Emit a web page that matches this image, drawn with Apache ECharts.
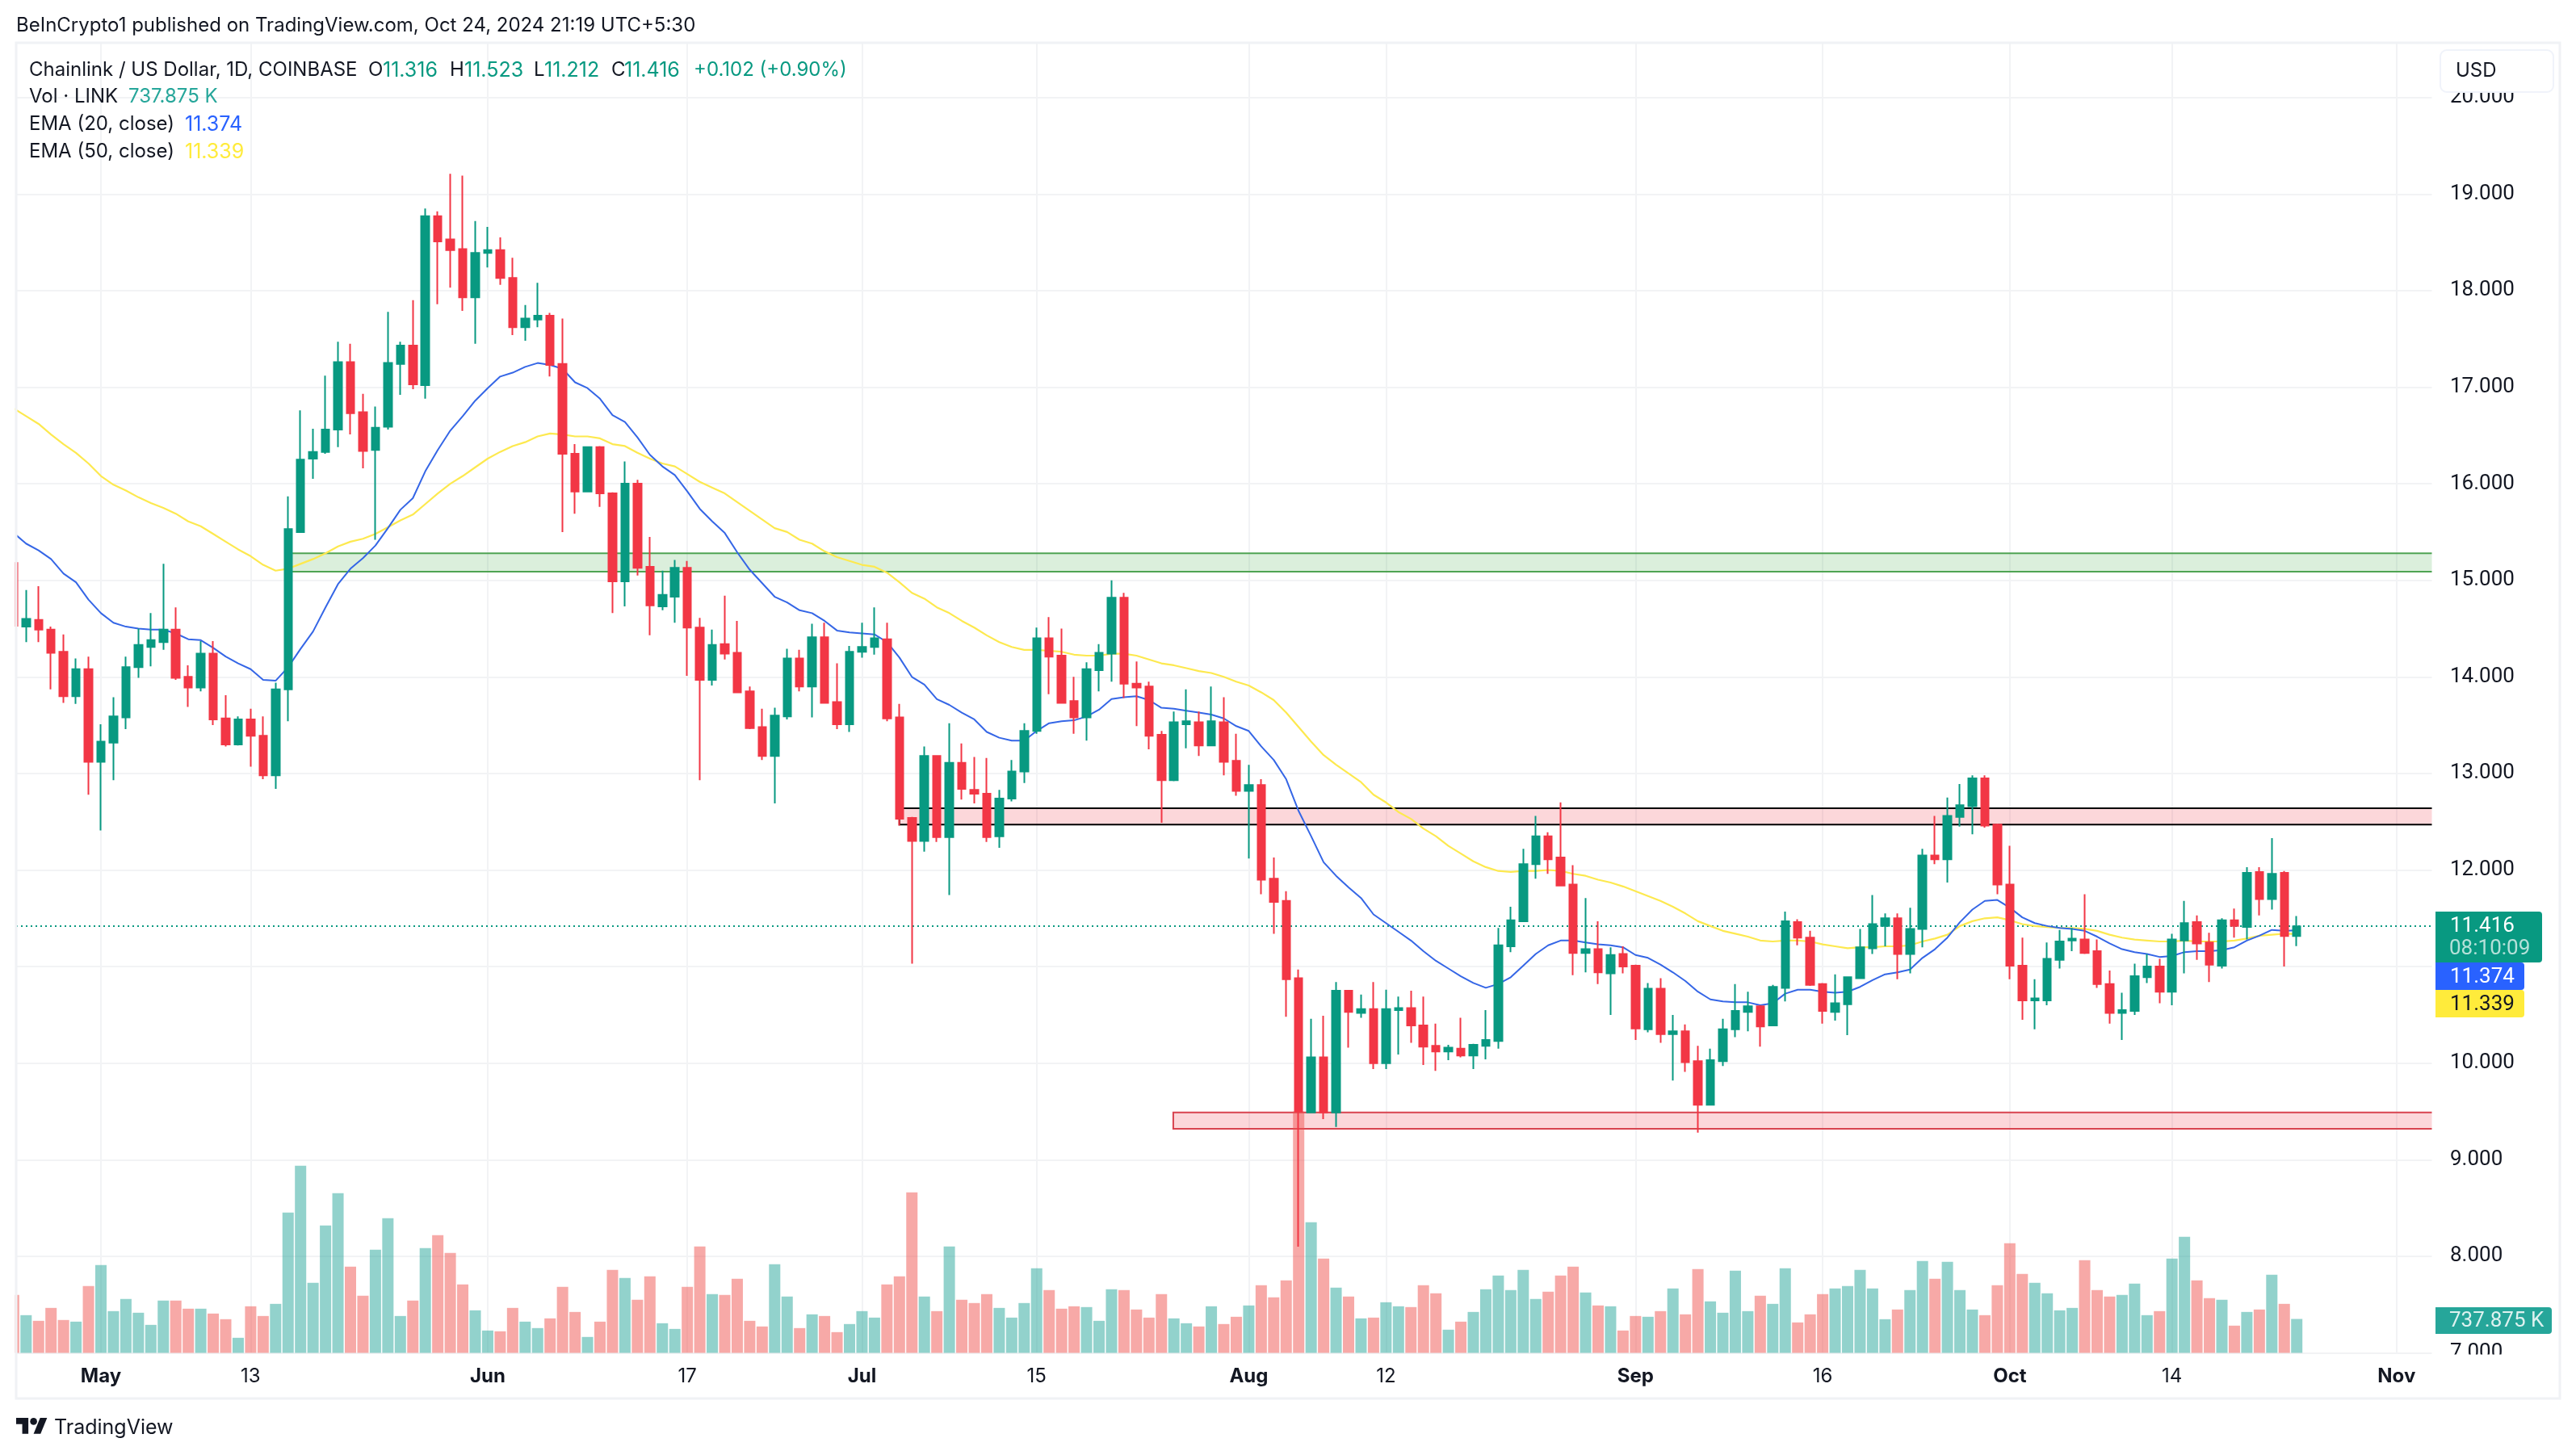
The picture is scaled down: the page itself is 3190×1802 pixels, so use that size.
<!DOCTYPE html>
<html><head><meta charset="utf-8">
<style>html,body{margin:0;padding:0;background:#fff}#c{width:3190px;height:1802px}</style>
<script src="https://cdn.jsdelivr.net/npm/echarts@6/dist/echarts.min.js"></script>
</head><body><div id="c"></div>
<script>
// day number of each bar counted from 1 May 2024; the first bar is 24 Apr, the last 24 Oct
const firstDay = -7;
const opens = [
15.18,14.52,14.59,14.49,14.26,13.80,14.08,
13.12,13.32,13.58,14.10,14.31,14.36,14.49,14.00,13.89,14.24,
13.57,13.30,13.56,13.39,12.98,13.87,15.50,16.26,16.33,16.56,
17.26,16.74,16.35,16.59,17.24,17.43,17.02,18.77,18.53,18.43,
17.93,18.39,18.42,18.13,17.62,17.70,17.74,17.24,16.31,15.92,
16.38,15.90,14.99,16.00,15.14,14.73,14.83,15.13,14.51,13.97,
14.34,14.25,13.85,13.48,13.18,13.59,14.19,13.90,14.41,13.74,
13.51,14.26,14.31,14.39,13.58,12.54,12.30,13.18,12.34,13.11,
12.83,12.79,12.35,12.74,13.02,13.44,14.40,14.22,13.75,13.58,
14.07,14.24,14.82,13.93,13.90,13.40,12.93,13.51,13.53,13.29,
13.53,13.13,12.82,12.88,11.91,11.68,10.88,9.49,10.06,9.49,
10.75,10.52,10.56,10.00,10.55,10.57,10.39,10.18,10.12,10.15,
10.08,10.18,10.23,11.21,11.47,12.06,12.35,12.13,11.85,11.14,
11.18,10.93,11.13,11.01,10.35,10.77,10.30,10.33,10.02,9.57,
10.02,10.35,10.53,10.59,10.39,10.78,11.46,11.30,10.82,10.53,
10.61,10.88,11.19,11.42,11.50,11.13,11.39,12.15,12.11,12.55,
12.66,12.95,12.47,11.85,11.01,10.65,10.65,11.07,11.27,11.28,
11.16,10.82,10.52,10.54,10.89,11.00,10.74,11.27,11.46,11.25,
11.01,11.48,11.41,11.98,11.70,11.97,11.316];
const closes = [
14.53,14.60,14.49,14.25,13.80,14.08,13.12,
13.33,13.59,14.10,14.33,14.38,14.49,13.99,13.89,14.24,13.56,
13.30,13.56,13.39,12.98,13.87,15.53,16.25,16.33,16.56,17.26,
16.73,16.34,16.58,17.25,17.43,17.03,18.77,18.51,18.42,17.93,
18.39,18.42,18.13,17.62,17.71,17.74,17.23,16.31,15.92,16.38,
15.90,14.99,16.00,15.13,14.74,14.85,15.13,14.51,13.97,14.33,
14.24,13.84,13.47,13.18,13.60,14.19,13.90,14.41,13.73,13.51,
14.26,14.31,14.40,13.57,12.53,12.30,13.18,12.34,13.11,12.84,
12.79,12.34,12.74,13.02,13.44,14.40,14.21,13.73,13.58,14.08,
14.25,14.82,13.93,13.89,13.39,12.93,13.53,13.54,13.29,13.54,
13.12,12.82,12.88,11.90,11.67,10.87,9.50,10.06,9.49,10.75,
10.53,10.56,10.00,10.56,10.57,10.39,10.17,10.12,10.16,10.08,
10.19,10.24,11.22,11.48,12.06,12.35,12.11,11.84,11.14,11.18,
10.94,11.12,11.00,10.36,10.77,10.30,10.33,10.01,9.57,10.03,
10.35,10.54,10.59,10.38,10.79,11.47,11.30,10.81,10.54,10.62,
10.89,11.20,11.44,11.50,11.13,11.39,12.15,12.11,12.56,12.67,
12.95,12.46,11.85,11.01,10.65,10.67,11.08,11.26,11.29,11.14,
10.82,10.52,10.55,10.90,11.00,10.74,11.28,11.45,11.24,11.02,
11.48,11.42,11.97,11.70,11.96,11.316,11.416];
const lows = [
14.50,14.36,14.36,13.87,13.73,13.72,12.78,
12.41,12.93,13.46,13.99,14.11,14.28,13.97,13.69,13.85,13.50,
13.28,13.29,13.07,12.94,12.84,13.54,15.49,16.05,16.31,16.38,
16.51,16.16,15.42,16.56,16.92,16.98,16.88,17.86,18.03,17.79,
17.45,18.24,18.06,17.54,17.48,17.62,17.11,15.50,15.69,15.91,
15.76,14.66,14.73,15.05,14.43,14.69,14.56,14.01,12.93,13.91,
14.18,13.84,13.46,13.14,12.69,13.56,13.85,13.58,13.73,13.46,
13.43,14.20,14.23,13.54,12.46,11.03,12.19,12.29,11.74,12.73,
12.69,12.29,12.23,12.71,12.90,13.41,13.82,13.73,13.41,13.34,
13.85,13.95,13.78,13.49,13.25,12.49,12.92,13.26,13.18,13.29,
12.98,12.77,12.12,11.75,11.34,10.48,8.10,9.49,9.42,9.34,
10.16,10.47,9.94,9.94,10.09,10.21,9.98,9.92,10.03,10.06,
9.94,10.04,10.15,11.15,11.46,11.91,11.96,11.84,10.91,10.94,
10.82,10.50,10.93,10.24,10.32,10.21,9.82,9.91,9.28,9.56,
9.97,10.27,10.33,10.17,10.39,10.64,11.22,10.80,10.41,10.44,
10.29,10.88,11.13,11.21,10.87,10.93,11.20,12.06,11.87,12.45,
12.37,12.44,11.75,10.87,10.45,10.35,10.60,10.98,11.16,11.13,
10.78,10.41,10.24,10.50,10.83,10.62,10.60,10.93,11.07,10.84,
10.98,11.30,11.28,11.53,11.59,11.00,11.212];
const highs = [
15.20,14.90,14.94,14.52,14.44,14.19,14.21,
13.51,13.79,14.21,14.50,14.66,15.17,14.72,14.12,14.37,14.37,
13.81,13.59,13.67,13.59,13.94,15.87,16.76,16.57,17.12,17.47,
17.45,16.93,16.80,17.78,17.47,17.90,18.85,18.82,19.21,19.19,
18.72,18.66,18.55,18.34,17.85,18.08,17.77,17.71,16.41,16.38,
16.39,15.91,16.23,16.04,15.45,15.10,15.21,15.20,14.61,14.49,
14.84,14.58,13.90,13.67,13.68,14.29,14.28,14.55,14.56,14.14,
14.32,14.56,14.72,14.56,13.72,12.55,13.28,13.19,13.52,13.31,
13.17,13.16,12.83,13.14,13.52,14.51,14.62,14.50,14.00,14.15,
14.34,15.00,14.87,14.16,13.95,13.44,13.64,13.87,13.64,13.90,
13.79,13.41,13.09,12.94,12.13,11.78,10.97,10.46,10.49,10.84,
10.75,10.71,10.84,10.76,10.69,10.75,10.69,10.41,10.19,10.47,
10.20,10.55,11.40,11.62,12.22,12.56,12.39,12.70,12.05,11.71,
11.47,11.20,11.21,11.02,10.83,10.88,10.50,10.40,10.18,10.15,
10.46,10.82,10.74,10.60,10.81,11.57,11.49,11.37,10.83,10.92,
10.89,11.39,11.74,11.55,11.55,11.61,12.22,12.56,12.75,12.89,
12.98,12.98,12.48,12.25,11.30,10.87,11.25,11.38,11.40,11.75,
11.28,10.96,10.73,11.03,11.13,11.08,11.34,11.68,11.53,11.35,
11.50,11.60,12.03,12.03,12.33,11.99,11.523];
// volume in thousands of LINK
const volumes = [
1259,820,697,978,715,679,1453,
1909,908,1171,873,609,1136,1136,961,961,855,
732,328,1013,802,1066,3051,4071,1523,2770,3473,
1874,1242,2243,2929,802,1136,2278,2560,2173,1488,
925,486,469,978,679,539,750,1435,890,346,
679,1804,1628,1154,1663,644,521,1435,2314,1277,
1259,1611,697,574,1927,1224,539,838,802,451,
627,908,767,1488,1663,3491,1224,908,2314,1154,
1084,1277,978,767,1084,1839,1365,961,1013,996,
697,1382,1365,943,767,1277,750,644,574,1013,
627,785,1031,1470,1207,1576,5253,2841,2050,1417,
1224,750,767,1101,1013,996,1470,1294,504,679,
890,1382,1681,1365,1804,1171,1330,1681,1874,1312,
1031,1013,486,802,785,908,1400,838,1822,1119,
873,1786,908,1242,1066,1839,662,838,1277,1400,
1453,1804,1400,732,943,1365,1997,1611,1980,1365,
943,820,1470,2384,1716,1523,1294,925,978,2015,
1365,1224,1259,1505,820,908,2050,2524,1576,1189,
1154,592,890,943,1699,1066,737.875];
const ema20 = [
15.49,15.38,15.31,15.22,15.07,14.98,14.80,
14.66,14.56,14.52,14.50,14.49,14.49,14.45,14.39,14.38,14.30,
14.21,14.14,14.08,13.97,13.96,14.10,14.29,14.47,14.72,14.96,
15.12,15.23,15.36,15.54,15.73,15.85,16.13,16.35,16.55,16.70,
16.86,16.99,17.11,17.15,17.21,17.25,17.23,17.19,17.05,16.99,
16.88,16.71,16.64,16.48,16.30,16.18,16.09,15.92,15.74,15.61,
15.49,15.29,15.11,14.97,14.83,14.77,14.69,14.66,14.58,14.48,
14.46,14.45,14.44,14.36,14.20,14.00,13.92,13.77,13.71,13.63,
13.56,13.43,13.37,13.34,13.34,13.44,13.52,13.54,13.55,13.59,
13.66,13.77,13.79,13.80,13.76,13.68,13.67,13.65,13.63,13.61,
13.57,13.49,13.44,13.28,13.14,12.94,12.61,12.35,12.08,11.94,
11.82,11.71,11.54,11.45,11.36,11.27,11.16,11.06,10.98,10.90,
10.83,10.78,10.82,10.89,11.01,11.13,11.22,11.27,11.27,11.25,
11.23,11.22,11.20,11.12,11.09,11.02,10.94,10.85,10.74,10.66,
10.64,10.63,10.63,10.60,10.62,10.72,10.76,10.76,10.74,10.73,
10.74,10.79,10.86,10.92,10.94,10.97,11.09,11.18,11.30,11.46,
11.59,11.68,11.69,11.61,11.51,11.45,11.42,11.40,11.39,11.37,
11.31,11.24,11.18,11.15,11.13,11.10,11.11,11.15,11.16,11.16,
11.17,11.20,11.27,11.32,11.38,11.37,11.374];
const ema50 = [
16.78,16.70,16.62,16.51,16.41,16.32,16.21,
16.08,15.99,15.93,15.86,15.80,15.75,15.69,15.61,15.56,15.48,
15.40,15.32,15.25,15.16,15.10,15.12,15.17,15.22,15.28,15.35,
15.40,15.43,15.48,15.55,15.62,15.68,15.79,15.90,16.00,16.08,
16.17,16.26,16.33,16.39,16.43,16.49,16.52,16.51,16.49,16.49,
16.47,16.41,16.39,16.32,16.26,16.21,16.18,16.10,16.02,15.96,
15.90,15.81,15.72,15.63,15.54,15.50,15.42,15.38,15.30,15.24,
15.20,15.16,15.14,15.08,14.98,14.87,14.81,14.72,14.66,14.58,
14.51,14.43,14.36,14.31,14.28,14.28,14.27,14.26,14.23,14.22,
14.22,14.24,14.24,14.22,14.18,14.14,14.12,14.09,14.06,14.04,
14.00,13.95,13.91,13.84,13.76,13.63,13.48,13.33,13.19,13.09,
13.00,12.91,12.78,12.70,12.60,12.53,12.43,12.35,12.25,12.17,
12.09,12.03,11.99,11.98,11.99,11.99,12.00,11.99,11.96,11.94,
11.90,11.87,11.83,11.78,11.73,11.68,11.62,11.55,11.47,11.42,
11.37,11.34,11.31,11.27,11.26,11.27,11.27,11.26,11.23,11.21,
11.19,11.20,11.20,11.21,11.21,11.22,11.26,11.29,11.33,11.42,
11.47,11.50,11.51,11.48,11.44,11.42,11.41,11.40,11.40,11.39,
11.37,11.33,11.30,11.28,11.27,11.26,11.26,11.27,11.26,11.26,
11.26,11.27,11.29,11.32,11.33,11.34,11.339];
const tickDays = [0,12,31,47,61,75,92,103,123,138,153,166,184];
const tickLabels = ['May','13','Jun','17','Jul','15','Aug','12','Sep','16','Oct','14','Nov'];
const monthLabels = ['May','Jun','Jul','Aug','Sep','Oct','Nov'];
const lastClose = 11.416;
// drawn zones: [first day, last day, top price, bottom price]
const greenZone = [15.27, 187, 15.28, 15.09];
const blackZone = [64, 187, 12.64, 12.47];
const redZone = [85.95, 187, 9.49, 9.32];

const GREEN='#089981', RED='#F23645', INK='#131722', FONT='Inter, "Noto Sans", sans-serif', MONO='Roboto, "Liberation Sans", sans-serif';
const PX_PER_DAY = 15.45, MAY1_X = 125, L = 20, R = 3013, T = 53, B = 1675.5;
const dayAt = x => (x - MAY1_X) / PX_PER_DAY;

const candles = opens.map((o,i)=>[firstDay+i,o,closes[i],lows[i],highs[i]]);
const volData = volumes.map((v,i)=>({value:[firstDay+i,v],itemStyle:{color:closes[i]>=opens[i]?'rgba(38,166,154,0.5)':'rgba(239,83,80,0.5)'}}));
const e20 = ema20.map((v,i)=>[firstDay+i,v]);
const e50 = ema50.map((v,i)=>[firstDay+i,v]);
const zone = (z,fill,border)=>[[{xAxis:z[0],yAxis:z[2],itemStyle:{color:fill,borderColor:border,borderWidth:2}},{xAxis:z[1],yAxis:z[3]}]];

function txt(x,y,text,fill,size,font){return {type:'text',x,y,z:120,silent:true,style:{text,fill:fill||INK,fontSize:size||24,fontFamily:font||FONT,verticalAlign:'middle',align:'left'}};}
function box(x,y,w,h,fill,r){return {type:'rect',z:110,silent:true,shape:{x,y,width:w,height:h,r:r||0},style:{fill}};}

const graphic = [
 box(0,40,18.5,1700,'#ffffff'),
 box(3011.5,40,9,1700,'#ffffff'),
 box(3020,1677.5,145,52,'#ffffff'),
 {type:'rect',z:112,silent:true,shape:{x:20,y:53,width:3150,height:1679},style:{fill:'none',stroke:'#F0F2F5',lineWidth:3}},
 {type:'rect',z:113,silent:true,shape:{x:3022,y:62,width:140,height:52,r:8},style:{fill:'#ffffff',stroke:'#F0F3FA',lineWidth:2}},
 txt(3041,88,'USD',INK,24),
 txt(20,32,'BeInCrypto1 published on TradingView.com, Oct 24, 2024 21:19 UTC+5:30',INK,24),
 txt(36,87,'Chainlink / US Dollar, 1D, COINBASE',INK,24),
 txt(456,87,'O',INK,24),txt(474,87,'11.316',GREEN,25),
 txt(557,87,'H',INK,24),txt(575,87,'11.523',GREEN,25),
 txt(661,87,'L',INK,24),txt(674,87,'11.212',GREEN,25),
 txt(757,87,'C',INK,24),txt(773,87,'11.416',GREEN,25),
 txt(859,87,'+0.102 (+0.90%)',GREEN,24),
 txt(36,120,'Vol · LINK',INK,24),txt(159,120,'737.875 K','#26A69A',24),
 txt(36,154,'EMA (20, close)',INK,24),txt(229,154,'11.374','#2962FF',25),
 txt(36,188,'EMA (50, close)',INK,24),txt(229,188,'11.339','#FFEB3B',25),
 box(3016,1129,132,63,GREEN,[0,4,4,0]),
 box(3016,1192,110,34,'#2962FF',[0,4,4,0]),
 box(3016,1226,110,34,'#FFEB3B',[0,4,4,0]),
 box(3016,1619,144,33,'#26A69A',[0,4,4,0]),
 txt(3034,1147.5,'11.416','#ffffff',26,MONO),
 txt(3033,1175,'08:10:09','rgba(255,255,255,0.7)',26,MONO),
 txt(3034,1210,'11.374','#ffffff',26,MONO),
 txt(3034,1244,'11.339',INK,26,MONO),
 txt(3033,1636,'737.875 K','rgba(255,255,255,0.85)',26,MONO),
 {type:'polygon',x:20,y:1751.6,scaleX:1.08,scaleY:1.1,z:120,silent:true,shape:{points:[[14,22],[7,22],[7,11],[0,11],[0,4],[14,4]]},style:{fill:INK}},
 {type:'polygon',x:20,y:1751.6,scaleX:1.08,scaleY:1.1,z:120,silent:true,shape:{points:[[28,22],[20,22],[27.5,4],[35.5,4]]},style:{fill:INK}},
 {type:'circle',x:20,y:1751.6,scaleX:1.08,scaleY:1.1,z:120,silent:true,shape:{cx:20,cy:8,r:4},style:{fill:INK}},
 txt(67,1768,'TradingView',INK,25)
];

const chart = echarts.init(document.getElementById('c'),null,{renderer:'canvas',width:3190,height:1802});
chart.setOption({
 animation:false,backgroundColor:'#ffffff',
 grid:{left:L,top:T,width:R-L,height:B-T,containLabel:false},
 xAxis:{type:'value',min:dayAt(L),max:dayAt(R),
  axisLine:{show:false},
  axisTick:{show:false,customValues:tickDays},
  splitLine:{show:true,lineStyle:{color:'#F2F3F5',width:2}},
  axisLabel:{customValues:tickDays,margin:17,color:INK,fontSize:24,fontFamily:FONT,
   formatter:v=>{const s=tickLabels[tickDays.indexOf(v)];return monthLabels.includes(s)?'{b|'+s+'}':s;},
   rich:{b:{fontWeight:'bold',fontSize:24,fontFamily:FONT,color:INK}}}},
 yAxis:[
  {type:'value',position:'right',min:7,max:7+(B-T)/119.6,interval:1,
   axisLine:{show:false},axisTick:{show:false},
   splitLine:{show:true,lineStyle:{color:'#F2F3F5',width:2}},
   axisLabel:{margin:21,color:INK,fontSize:26,fontFamily:MONO,showMaxLabel:false,padding:[4,0,0,0],formatter:v=>v.toFixed(3)}},
  {type:'value',min:0,max:(B-T)*17.57,show:false,splitLine:{show:false}}
 ],
 series:[
  {type:'bar',name:'Vol',yAxisIndex:1,barWidth:14,z:2,data:volData,silent:true},
  {type:'line',name:'EMA 50',data:e50,showSymbol:false,z:3,lineStyle:{color:'#FDE94F',width:2.2},silent:true,
   markArea:{silent:true,z:1,data:[...zone(greenZone,'rgba(76,175,80,0.2)','#4FA453'),...zone(blackZone,'rgba(242,54,69,0.2)','#000000'),...zone(redZone,'rgba(242,54,69,0.2)','#D8434F')]}},
  {type:'line',name:'EMA 20',data:e20,showSymbol:false,z:3,lineStyle:{color:'#3566E6',width:2},silent:true},
  {type:'candlestick',name:'LINKUSD',data:candles,barWidth:10,z:4,silent:true,
   itemStyle:{color:GREEN,color0:RED,borderColor:GREEN,borderColor0:RED,borderWidth:2},
   markLine:{silent:true,z:2,symbol:'none',label:{show:false},lineStyle:{color:GREEN,type:[2,4],width:2},data:[{yAxis:lastClose}]}}
 ],
 graphic:{elements:graphic}
});
</script></body></html>
